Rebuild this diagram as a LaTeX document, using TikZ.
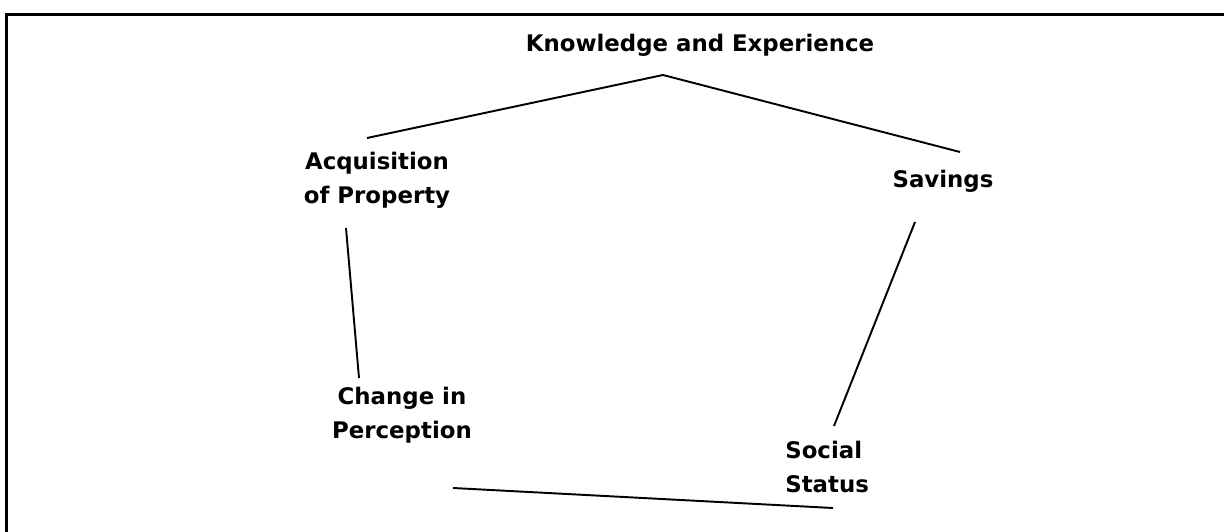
\documentclass[tikz,border=0pt]{standalone}
\usepackage{fontspec}
\setmainfont{DejaVu Sans}
\begin{document}
\begin{tikzpicture}[x=0.02cm,y=-0.02cm]
\tikzset{factor/.style={font=\fontsize{13}{19.3}\selectfont\bfseries,align=center,inner sep=0pt},
         link/.style={line width=1.1pt}}
\useasboundingbox (0,0) rectangle (1224,531);
% frame
\draw[line width=1.7pt] (6.5,540) -- (6.5,14.5) -- (1230,14.5);

\node[factor] (know) at (700,45) {Knowledge and Experience};
\node[factor] (acq) at (377,180) {Acquisition\\of Property};
\node[factor] (sav) at (943,181) {Savings};
\node[factor] (chg) at (402,415) {Change in\\Perception};
\node[factor,align=left,anchor=west] (soc) at (785,467) {Social\\Status};

\coordinate (top) at (663,75);
\coordinate (acqT) at (367,138);
\coordinate (acqB) at (346,228);
\coordinate (savT) at (960,152);
\coordinate (savB) at (915,222);
\coordinate (chgT) at (359,378);
\coordinate (chgB) at (453,488);
\coordinate (socT) at (834,426);
\coordinate (socB) at (833,508);

\draw[link] (acqT) -- (top) -- (savT);
\draw[link] (acqB) -- (chgT);
\draw[link] (savB) -- (socT);
\draw[link] (chgB) -- (socB);
\end{tikzpicture}
\end{document}
